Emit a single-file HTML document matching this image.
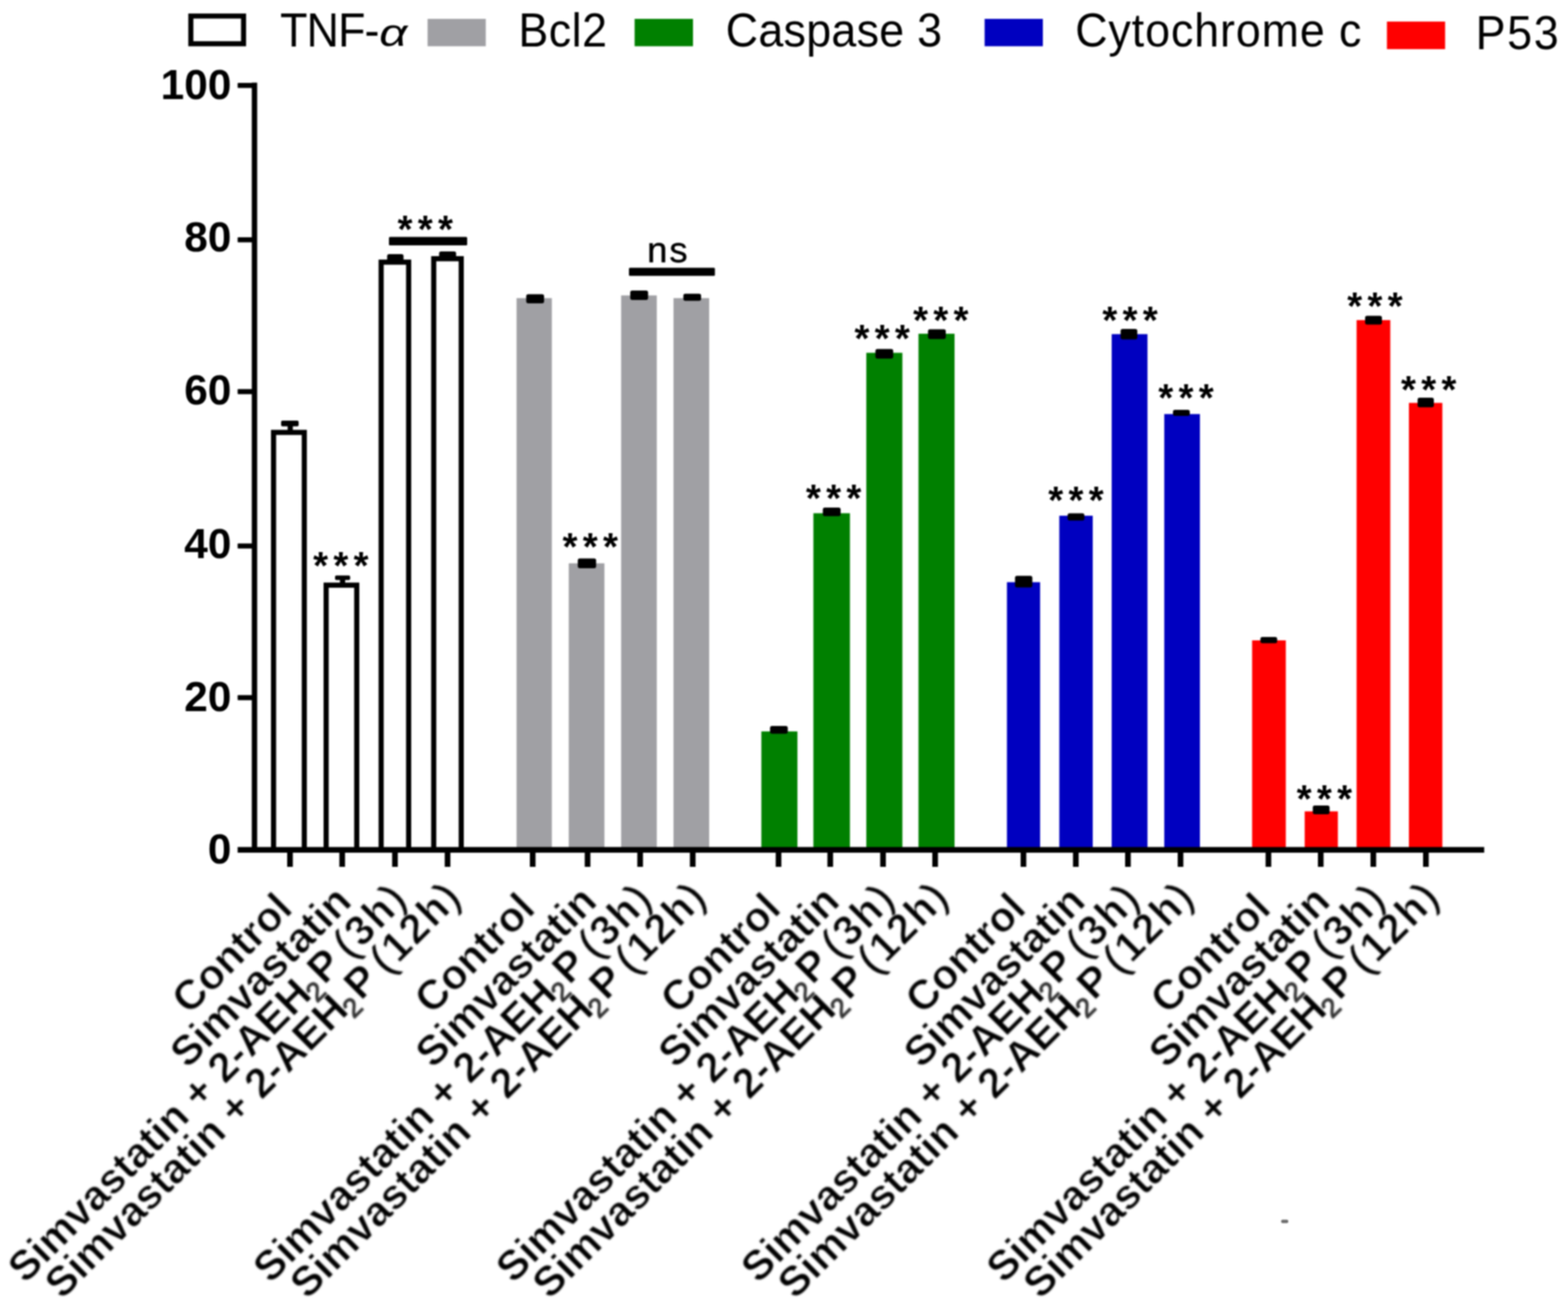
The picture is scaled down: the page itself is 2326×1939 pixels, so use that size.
<!DOCTYPE html>
<html lang="en"><head><meta charset="utf-8"><title>Chart</title>
<style>
html,body{margin:0;padding:0;background:#fff;}
body{width:2326px;height:1939px;overflow:hidden;}
svg{display:block;}
text{font-family:"Liberation Sans",Arial,Helvetica,sans-serif;fill:#000;}
.leg{font-size:66.5px;}
.al{font-style:italic;font-size:60px;}
.yl{font-size:63px;font-weight:bold;text-anchor:end;}
.xl{font-size:62px;font-weight:bold;text-anchor:end;stroke:#fff;stroke-width:1px;}
.xl .r{font-weight:bold;stroke:#fff;stroke-width:1.2px;letter-spacing:2.6px;}
.xl .sp{letter-spacing:-4.5px;}
.xl .e{letter-spacing:0;font-weight:normal;stroke:#000;stroke-width:0.8px;}
.xl .p{font-weight:normal;stroke:#000;stroke-width:0.8px;letter-spacing:3.5px;}
.xl .h2{letter-spacing:2px;}
.xl .sub{font-weight:normal;font-size:40px;fill:#333;stroke:#333;stroke-width:1.6px;}
.st{font-size:57px;font-weight:bold;text-anchor:middle;letter-spacing:7.8px;}
.ns{font-size:54px;text-anchor:middle;letter-spacing:3px;stroke:#000;stroke-width:0.6px;}
</style></head><body>
<svg width="2326" height="1939" viewBox="0 0 2326 1939">
<defs><filter id="soft" x="0" y="0" width="100%" height="100%" filterUnits="objectBoundingBox" color-interpolation-filters="sRGB"><feGaussianBlur stdDeviation="1.3"/></filter><filter id="soft2" x="0" y="1280" width="2326" height="659" filterUnits="userSpaceOnUse" color-interpolation-filters="sRGB"><feGaussianBlur stdDeviation="0.9"/></filter></defs>
<g filter="url(#soft)">
<rect x="-20" y="-20" width="2366" height="1979" fill="#fff"/>
<rect x="283.1" y="23.8" width="78.2" height="41.1" fill="#fff" stroke="#000" stroke-width="7.5"/>
<text class="leg" transform="translate(415.5 68.6) scale(1 1.055)" x="0" y="0" letter-spacing="-1.30">TNF-</text>
<text class="leg al" transform="translate(562.5 68.4) scale(1.22 0.97)" x="0" y="0">α</text>
<rect x="634.3" y="28.0" width="86.3" height="40.6" fill="#a0a0a4"/>
<text class="leg" transform="translate(769.0 68.6) scale(1 1.055)" x="0" y="0" letter-spacing="0.70">Bcl2</text>
<rect x="941.4" y="28.0" width="86.6" height="40.6" fill="#008000"/>
<text class="leg" transform="translate(1076.5 68.6) scale(1 1.055)" x="0" y="0" letter-spacing="0.40">Caspase 3</text>
<rect x="1460.6" y="28.0" width="86.4" height="40.6" fill="#0000c0"/>
<text class="leg" transform="translate(1595.0 68.6) scale(1 1.055)" x="0" y="0" letter-spacing="1.30">Cytochrome c</text>
<rect x="2057.4" y="32.0" width="86.3" height="40.9" fill="#ff0000"/>
<text class="leg" transform="translate(2189.0 72.9) scale(1 1.055)" x="0" y="0" letter-spacing="2.40">P53</text>
<rect x="417.0" y="624.0" width="26.0" height="8.6" rx="2.0" fill="#000"/>
<rect x="426.7" y="626.0" width="7.7" height="24.0" rx="0.0" fill="#000"/>
<rect x="418.0" y="642.0" width="24.0" height="8.0" rx="2.0" fill="#000"/>
<rect x="497.0" y="853.7" width="22.4" height="6.9" rx="2.0" fill="#000"/>
<rect x="504.3" y="855.0" width="7.7" height="19.0" rx="0.0" fill="#000"/>
<rect x="497.0" y="867.0" width="22.4" height="7.0" rx="2.0" fill="#000"/>
<rect x="574.3" y="377.0" width="24.3" height="13.0" rx="3.0" fill="#000"/>
<rect x="651.4" y="372.9" width="25.2" height="17.1" rx="3.0" fill="#000"/>
<rect x="405.8" y="641.5" width="45.6" height="619.3" fill="#fff" stroke="#000" stroke-width="7.6"/>
<rect x="483.8" y="868.1" width="45.4" height="392.7" fill="#fff" stroke="#000" stroke-width="7.6"/>
<rect x="565.4" y="388.9" width="40.8" height="871.9" fill="#fff" stroke="#000" stroke-width="7.6"/>
<rect x="643.4" y="383.8" width="40.8" height="877.0" fill="#fff" stroke="#000" stroke-width="7.6"/>
<rect x="766.3" y="442.3" width="52.3" height="818.5" fill="#a0a0a4"/>
<rect x="843.7" y="835.7" width="52.9" height="425.1" fill="#a0a0a4"/>
<rect x="921.4" y="438.3" width="52.9" height="822.5" fill="#a0a0a4"/>
<rect x="999.1" y="442.3" width="52.9" height="818.5" fill="#a0a0a4"/>
<rect x="1129.4" y="1085.1" width="53.5" height="175.7" fill="#008000"/>
<rect x="1206.6" y="761.4" width="54.2" height="499.4" fill="#008000"/>
<rect x="1285.1" y="523.4" width="53.5" height="737.4" fill="#008000"/>
<rect x="1362.5" y="495.1" width="53.5" height="765.7" fill="#008000"/>
<rect x="1493.7" y="863.7" width="49.2" height="397.1" fill="#0000c0"/>
<rect x="1571.4" y="765.1" width="49.6" height="495.7" fill="#0000c0"/>
<rect x="1649.1" y="495.7" width="53.1" height="765.1" fill="#0000c0"/>
<rect x="1727.1" y="614.3" width="52.9" height="646.5" fill="#0000c0"/>
<rect x="1857.4" y="950.0" width="50.0" height="310.8" fill="#ff0000"/>
<rect x="1935.4" y="1203.7" width="49.2" height="57.1" fill="#ff0000"/>
<rect x="2012.4" y="474.9" width="50.0" height="785.9" fill="#ff0000"/>
<rect x="2090.0" y="597.7" width="49.6" height="663.1" fill="#ff0000"/>
<rect x="780.6" y="436.6" width="26.5" height="13.4" rx="3.0" fill="#000"/>
<rect x="857.1" y="828.6" width="27.2" height="14.3" rx="3.0" fill="#000"/>
<rect x="934.9" y="430.9" width="26.5" height="14.2" rx="3.0" fill="#000"/>
<rect x="1013.7" y="435.7" width="26.3" height="10.6" rx="3.0" fill="#000"/>
<rect x="1142.3" y="1077.0" width="26.3" height="11.6" rx="3.0" fill="#000"/>
<rect x="1220.6" y="752.9" width="26.4" height="12.8" rx="3.0" fill="#000"/>
<rect x="1298.6" y="517.7" width="26.4" height="14.3" rx="3.0" fill="#000"/>
<rect x="1376.6" y="488.6" width="26.4" height="14.4" rx="3.0" fill="#000"/>
<rect x="1505.7" y="854.3" width="25.7" height="17.1" rx="3.0" fill="#000"/>
<rect x="1583.7" y="761.4" width="24.9" height="10.9" rx="3.0" fill="#000"/>
<rect x="1662.3" y="488.0" width="24.8" height="15.4" rx="3.0" fill="#000"/>
<rect x="1740.0" y="608.0" width="25.0" height="9.0" rx="3.0" fill="#000"/>
<rect x="1869.7" y="945.0" width="24.9" height="9.3" rx="3.0" fill="#000"/>
<rect x="1947.4" y="1195.0" width="24.9" height="13.0" rx="3.0" fill="#000"/>
<rect x="2025.0" y="468.6" width="25.0" height="12.8" rx="3.0" fill="#000"/>
<rect x="2102.9" y="590.0" width="24.1" height="14.3" rx="3.0" fill="#000"/>
<rect x="577" y="351.5" width="116" height="12.5" rx="1.5" fill="#000"/>
<rect x="933" y="397.2" width="127.5" height="12" rx="1.5" fill="#000"/>
<text class="st" x="634.7" y="360.3">***</text>
<text class="st" x="509.6" y="859.4">***</text>
<text class="st" x="879.6" y="830.9">***</text>
<text class="st" x="1240.4" y="759.0">***</text>
<text class="st" x="1312.4" y="522.0">***</text>
<text class="st" x="1399.4" y="495.0">***</text>
<text class="st" x="1599.9" y="762.3">***</text>
<text class="st" x="1680.3" y="494.6">***</text>
<text class="st" x="1763.2" y="610.0">***</text>
<text class="st" x="1968.4" y="1204.6">***</text>
<text class="st" x="2043.4" y="473.7">***</text>
<text class="st" x="2123.2" y="598.0">***</text>
<text class="ns" x="991.5" y="388.6">ns</text>
<rect x="373.5" y="122.6" width="8.0" height="1142.4" fill="#000"/>
<rect x="352.5" y="1256.6" width="1849.2" height="8.4" fill="#000"/>
<rect x="352.5" y="123.0" width="23" height="7.6" rx="1" fill="#000"/>
<text class="yl" x="343.3" y="147.1">100</text>
<rect x="352.5" y="351.9" width="23" height="7.6" rx="1" fill="#000"/>
<text class="yl" x="343.3" y="373.4">80</text>
<rect x="352.5" y="577.2" width="23" height="7.6" rx="1" fill="#000"/>
<text class="yl" x="343.3" y="600.3">60</text>
<rect x="352.5" y="806.2" width="23" height="7.6" rx="1" fill="#000"/>
<text class="yl" x="343.3" y="828.3">40</text>
<rect x="352.5" y="1031.2" width="23" height="7.6" rx="1" fill="#000"/>
<text class="yl" x="343.3" y="1055.0">20</text>
<text class="yl" x="343.3" y="1280.8">0</text>
<rect x="426.0" y="1262" width="8.4" height="24" fill="#000"/>
<rect x="503.4" y="1262" width="8.4" height="24" fill="#000"/>
<rect x="581.7" y="1262" width="8.4" height="24" fill="#000"/>
<rect x="659.7" y="1262" width="8.4" height="24" fill="#000"/>
<rect x="786.0" y="1262" width="8.4" height="24" fill="#000"/>
<rect x="867.4" y="1262" width="8.4" height="24" fill="#000"/>
<rect x="945.4" y="1262" width="8.4" height="24" fill="#000"/>
<rect x="1023.4" y="1262" width="8.4" height="24" fill="#000"/>
<rect x="1150.7" y="1262" width="8.4" height="24" fill="#000"/>
<rect x="1227.4" y="1262" width="8.4" height="24" fill="#000"/>
<rect x="1305.7" y="1262" width="8.4" height="24" fill="#000"/>
<rect x="1383.0" y="1262" width="8.4" height="24" fill="#000"/>
<rect x="1514.0" y="1262" width="8.4" height="24" fill="#000"/>
<rect x="1591.7" y="1262" width="8.4" height="24" fill="#000"/>
<rect x="1669.0" y="1262" width="8.4" height="24" fill="#000"/>
<rect x="1747.0" y="1262" width="8.4" height="24" fill="#000"/>
<rect x="1877.4" y="1262" width="8.4" height="24" fill="#000"/>
<rect x="1955.0" y="1262" width="8.4" height="24" fill="#000"/>
<rect x="2033.0" y="1262" width="8.4" height="24" fill="#000"/>
<rect x="2111.0" y="1262" width="8.4" height="24" fill="#000"/>
<g filter="url(#soft2)">
<text class="xl" transform="translate(436.6 1351.0) rotate(-45)" x="0" y="0">Control</text>
<text class="xl" transform="translate(524.4 1340.5) rotate(-45)" x="0" y="0">Simvastatin</text>
<text class="xl" transform="translate(605.7 1337.5) rotate(-45)" x="0" y="0">Simvastatin + 2-AEH<tspan class="sub" dx="-4" dy="11">2</tspan><tspan dx="4" dy="-11">P</tspan><tspan class="r"><tspan class="sp"> </tspan><tspan class="p">(</tspan>3h<tspan class="e">)</tspan></tspan></text>
<text class="xl" transform="translate(686.1 1335.0) rotate(-45)" x="0" y="0">Simvastatin + 2-AEH<tspan class="sub" dx="-4" dy="11">2</tspan><tspan dx="4" dy="-11">P</tspan><tspan class="r"><tspan class="sp"> </tspan><tspan class="p">(</tspan>12<tspan class="h2">h</tspan><tspan class="e">)</tspan></tspan></text>
<text class="xl" transform="translate(796.6 1351.0) rotate(-45)" x="0" y="0">Control</text>
<text class="xl" transform="translate(888.4 1340.5) rotate(-45)" x="0" y="0">Simvastatin</text>
<text class="xl" transform="translate(969.4 1337.5) rotate(-45)" x="0" y="0">Simvastatin + 2-AEH<tspan class="sub" dx="-4" dy="11">2</tspan><tspan dx="4" dy="-11">P</tspan><tspan class="r"><tspan class="sp"> </tspan><tspan class="p">(</tspan>3h<tspan class="e">)</tspan></tspan></text>
<text class="xl" transform="translate(1049.8 1335.0) rotate(-45)" x="0" y="0">Simvastatin + 2-AEH<tspan class="sub" dx="-4" dy="11">2</tspan><tspan dx="4" dy="-11">P</tspan><tspan class="r"><tspan class="sp"> </tspan><tspan class="p">(</tspan>12<tspan class="h2">h</tspan><tspan class="e">)</tspan></tspan></text>
<text class="xl" transform="translate(1161.3 1351.0) rotate(-45)" x="0" y="0">Control</text>
<text class="xl" transform="translate(1248.4 1340.5) rotate(-45)" x="0" y="0">Simvastatin</text>
<text class="xl" transform="translate(1329.7 1337.5) rotate(-45)" x="0" y="0">Simvastatin + 2-AEH<tspan class="sub" dx="-4" dy="11">2</tspan><tspan dx="4" dy="-11">P</tspan><tspan class="r"><tspan class="sp"> </tspan><tspan class="p">(</tspan>3h<tspan class="e">)</tspan></tspan></text>
<text class="xl" transform="translate(1409.4 1335.0) rotate(-45)" x="0" y="0">Simvastatin + 2-AEH<tspan class="sub" dx="-4" dy="11">2</tspan><tspan dx="4" dy="-11">P</tspan><tspan class="r"><tspan class="sp"> </tspan><tspan class="p">(</tspan>12<tspan class="h2">h</tspan><tspan class="e">)</tspan></tspan></text>
<text class="xl" transform="translate(1524.6 1351.0) rotate(-45)" x="0" y="0">Control</text>
<text class="xl" transform="translate(1612.7 1340.5) rotate(-45)" x="0" y="0">Simvastatin</text>
<text class="xl" transform="translate(1693.0 1337.5) rotate(-45)" x="0" y="0">Simvastatin + 2-AEH<tspan class="sub" dx="-4" dy="11">2</tspan><tspan dx="4" dy="-11">P</tspan><tspan class="r"><tspan class="sp"> </tspan><tspan class="p">(</tspan>3h<tspan class="e">)</tspan></tspan></text>
<text class="xl" transform="translate(1773.4 1335.0) rotate(-45)" x="0" y="0">Simvastatin + 2-AEH<tspan class="sub" dx="-4" dy="11">2</tspan><tspan dx="4" dy="-11">P</tspan><tspan class="r"><tspan class="sp"> </tspan><tspan class="p">(</tspan>12<tspan class="h2">h</tspan><tspan class="e">)</tspan></tspan></text>
<text class="xl" transform="translate(1888.0 1351.0) rotate(-45)" x="0" y="0">Control</text>
<text class="xl" transform="translate(1976.0 1340.5) rotate(-45)" x="0" y="0">Simvastatin</text>
<text class="xl" transform="translate(2057.0 1337.5) rotate(-45)" x="0" y="0">Simvastatin + 2-AEH<tspan class="sub" dx="-4" dy="11">2</tspan><tspan dx="4" dy="-11">P</tspan><tspan class="r"><tspan class="sp"> </tspan><tspan class="p">(</tspan>3h<tspan class="e">)</tspan></tspan></text>
<text class="xl" transform="translate(2137.4 1335.0) rotate(-45)" x="0" y="0">Simvastatin + 2-AEH<tspan class="sub" dx="-4" dy="11">2</tspan><tspan dx="4" dy="-11">P</tspan><tspan class="r"><tspan class="sp"> </tspan><tspan class="p">(</tspan>12<tspan class="h2">h</tspan><tspan class="e">)</tspan></tspan></text>
</g>
<rect x="1900.5" y="1809.5" width="10.5" height="5" rx="2" fill="#6a6a6a"/>
</g>
</svg>
</body></html>
